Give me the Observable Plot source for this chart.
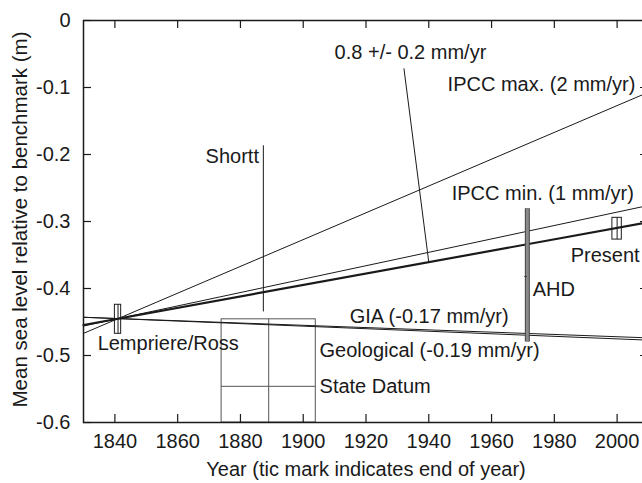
<!DOCTYPE html>
<html><head><meta charset="utf-8">
<script src="https://cdn.jsdelivr.net/npm/d3@7"></script>
<script src="https://cdn.jsdelivr.net/npm/@observablehq/plot@0.6"></script>
<style>html,body{margin:0;padding:0;background:#fff;overflow:hidden}</style>
</head><body><div id="chart"></div>
<script>
// ---- data ----
const xTicks = [1840, 1860, 1880, 1900, 1920, 1940, 1960, 1980, 2000];
const yTicks = [0, -0.1, -0.2, -0.3, -0.4, -0.5, -0.6];
const yTickLabels = ["0", "-0.1", "-0.2", "-0.3", "-0.4", "-0.5", "-0.6"];

const trendYears = [1830, 2010];
const observedTrend = [-0.4545, -0.301];   // 0.8 +/- 0.2 mm/yr (thick)
const ipccMax = [-0.467, -0.107];          // 2 mm/yr
const ipccMin = [-0.456, -0.276];          // 1 mm/yr
const giaTrend = [-0.443, -0.4737];        // -0.17 mm/yr
const geologicalTrend = [-0.4429, -0.4771];// -0.19 mm/yr

const lempriereYears = [1840, 1841, 1842];
const lempriereLevels = [-0.4243, -0.4676];
const presentYears = [1998.5, 2000, 2001.5];
const presentLevels = [-0.2945, -0.327];

const stateDatumYears = [1874, 1889, 1904];
const stateDatumLevels = [-0.6, -0.546, -0.446];

const ahdYear = 1971.4;
const ahdLevels = [-0.281, -0.382, -0.480];

const shorttYear = 1887.3;
const shorttLevels = [-0.187, -0.435];

const leaderYears = [1932.1, 1940];
const leaderLevels = [-0.072, -0.3607];

const labelTexts = ["0.8 +/- 0.2 mm/yr", "IPCC max. (2 mm/yr)", "Shortt", "IPCC min. (1 mm/yr)",
  "Present", "AHD", "GIA (-0.17 mm/yr)", "Lempriere/Ross", "Geological (-0.19 mm/yr)", "State Datum"];
const labelYears = [1910.0, 1946.0, 1868.9, 1947.3, 1985.2, 1973.1, 1914.8, 1834.5, 1905.2, 1905.2];
const labelLevels = [-0.0478, -0.0955, -0.203, -0.258, -0.351, -0.401, -0.442, -0.482, -0.4925, -0.546];

// ---- build ----
const mk = (name, vals) => trendYears.map((y, i) => ({name, year: y, level: vals[i]}));
const thinLines = [...mk("max", ipccMax), ...mk("min", ipccMin), ...mk("gia", giaTrend), ...mk("geo", geologicalTrend)];
const thickLine = mk("obs", observedTrend);
const labels = labelTexts.map((t, i) => ({t, year: labelYears[i], level: labelLevels[i]}));
const ink = "#1a1a1a";
const FS = 20;

const chart = Plot.plot({
  width: 642, height: 483,
  marginLeft: 83, marginRight: -6, marginTop: 20, marginBottom: 61,
  x: {domain: [1830, 2010], range: [83, 648], axis: null},
  y: {domain: [-0.6, 0], range: [422, 20], axis: null},
  style: {fontFamily: "'Liberation Sans', Arial, Helvetica, sans-serif", background: "#fff", color: ink},
  marks: [
    // State Datum box
    Plot.rect([0], {x1: () => stateDatumYears[0], x2: () => stateDatumYears[2], y1: () => stateDatumLevels[0], y2: () => stateDatumLevels[2], fill: "none", stroke: "#555", strokeWidth: 1}),
    Plot.ruleX([stateDatumYears[1]], {x: d => d, y1: stateDatumLevels[0], y2: stateDatumLevels[2], stroke: "#555", strokeWidth: 1}),
    Plot.ruleY([stateDatumLevels[1]], {y: d => d, x1: stateDatumYears[0], x2: stateDatumYears[2], stroke: "#555", strokeWidth: 1}),
    // trend lines
    Plot.line(thinLines, {x: "year", y: "level", z: "name", stroke: ink, strokeWidth: 1}),
    Plot.line(thickLine, {x: "year", y: "level", stroke: ink, strokeWidth: 2.2}),
    // leaders
    Plot.ruleX([shorttYear], {x: d => d, y1: shorttLevels[0], y2: shorttLevels[1], stroke: ink, strokeWidth: 1}),
    Plot.line(leaderYears.map((y, i) => ({year: y, level: leaderLevels[i]})), {x: "year", y: "level", stroke: ink, strokeWidth: 1}),
    // AHD bar
    Plot.ruleX([ahdYear], {x: d => d, y1: ahdLevels[0], y2: ahdLevels[2], stroke: "#444", strokeWidth: 5}),
    Plot.ruleX([ahdYear], {x: d => d, y1: ahdLevels[0], y2: ahdLevels[2], stroke: "#8a8a8a", strokeWidth: 3}),
    Plot.ruleY([ahdLevels[1]], {y: d => d, x1: ahdYear - 0.8, x2: ahdYear, stroke: "#333", strokeWidth: 1}),
    // Lempriere/Ross box
    Plot.rect([0], {x1: () => lempriereYears[0], x2: () => lempriereYears[2], y1: () => lempriereLevels[0], y2: () => lempriereLevels[1], fill: "none", stroke: ink, strokeWidth: 1}),
    Plot.ruleX([lempriereYears[1]], {x: d => d, y1: lempriereLevels[0], y2: lempriereLevels[1], stroke: ink, strokeWidth: 1}),
    // Present box
    Plot.rect([0], {x1: () => presentYears[0], x2: () => presentYears[2], y1: () => presentLevels[0], y2: () => presentLevels[1], fill: "none", stroke: ink, strokeWidth: 1}),
    Plot.ruleX([presentYears[1]], {x: d => d, y1: presentLevels[0], y2: presentLevels[1], stroke: ink, strokeWidth: 1}),
    // labels
    Plot.text(labels, {x: "year", y: "level", text: "t", textAnchor: "start", fontSize: FS, fill: ink}),
    // frame + ticks
    Plot.frame({stroke: ink, strokeWidth: 1.5}),
    Plot.tickX(xTicks, {x: d => d, insetTop: 394, stroke: ink, strokeWidth: 1.2}),
    Plot.tickX(xTicks, {x: d => d, insetBottom: 394, stroke: ink, strokeWidth: 1.2}),
    Plot.tickY(yTicks, {y: d => d, insetRight: 557, stroke: ink, strokeWidth: 1.2}),
    Plot.tickY(yTicks, {y: d => d, insetLeft: 557, stroke: ink, strokeWidth: 1.2}),
    // tick labels
    Plot.text(xTicks, {x: d => d, frameAnchor: "bottom", dy: 25, text: d => String(d), fontSize: FS, fill: ink}),
    Plot.text(yTicks, {y: d => d, frameAnchor: "left", dx: -13, textAnchor: "end", text: (d, i) => yTickLabels[i], fontSize: FS, fill: ink}),
    // axis titles
    Plot.text(["Year (tic mark indicates end of year)"], {frameAnchor: "bottom", dy: 53, text: d => d, fontSize: FS, fill: ink}),
    Plot.text(["Mean sea level relative to benchmark (m)"], {frameAnchor: "left", dx: -63, dy: -2, rotate: -90, textAnchor: "middle", text: d => d, fontSize: 20.5, fill: ink})
  ]
});
document.getElementById("chart").appendChild(chart);
</script>
</body></html>
